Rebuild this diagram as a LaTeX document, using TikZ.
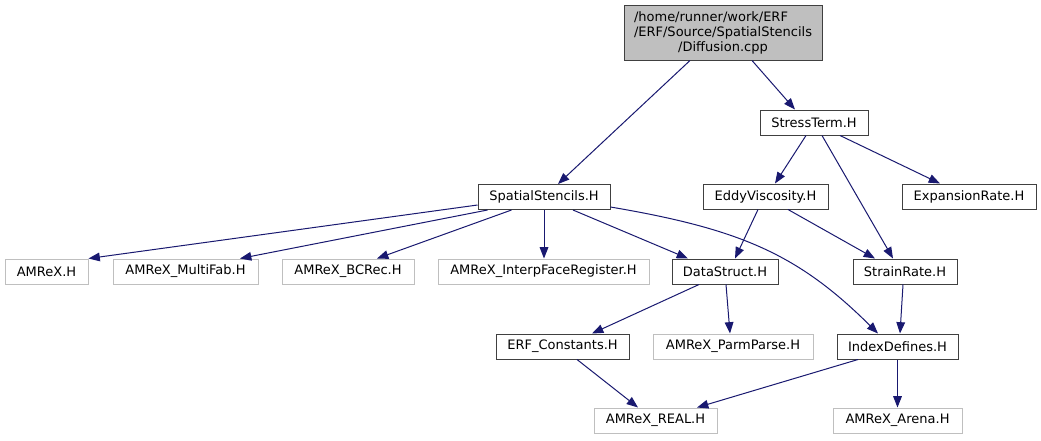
\documentclass[tikz,border=0pt]{standalone}
\usepackage{fontspec}
\setmainfont{DejaVu Sans}
\usetikzlibrary{calc,arrows.meta}
\definecolor{edgec}{HTML}{191970}
\definecolor{greyb}{HTML}{BFBFBF}
\definecolor{darkb}{HTML}{404040}
\newlength\lw
\begin{document}
\begin{tikzpicture}[x=0.75pt,y=-0.75pt,
  every node/.style={font=\fontsize{9.75pt}{11.25pt}\selectfont, inner sep=0pt, line width=0.75pt},
  box/.style 2 args={draw=darkb, fill=white, minimum width=#1*0.75pt, minimum height=#2*0.75pt},
  gbox/.style 2 args={draw=greyb, fill=white, minimum width=#1*0.75pt, minimum height=#2*0.75pt},
  edge/.style={draw=edgec, line width=0.75pt, -{Triangle[length=8.5pt,width=6.5pt]}}]
\fill[white] (0,0) rectangle (1041,440);
\useasboundingbox (0,0) rectangle (1041,440);
% nodes
\node[box={198}{55}, fill=greyb, align=center] (diff) at (723,32.5)
  {\settowidth{\lw}{/ERF/Source/SpatialStencils}\makebox[\lw][l]{/home/runner/work/ERF}\\/ERF/Source/SpatialStencils\\/Diffusion.cpp};
\node[box={108}{25}] (stress) at (814,122.5) {StressTerm.H};
\node[box={125}{25}] (eddy) at (765.5,196.5) {EddyViscosity.H};
\node[box={134}{25}] (exp) at (969,196.5) {ExpansionRate.H};
\node[box={132}{25}] (ss) at (544,197) {SpatialStencils.H};
\node[gbox={83}{25}] (amrex) at (46.5,271.5) {AMReX.H};
\node[gbox={145}{25}] (mf) at (185.5,271.5) {AMReX\_MultiFab.H};
\node[gbox={132}{25}] (bc) at (348,271.5) {AMReX\_BCRec.H};
\node[gbox={211}{25}] (interp) at (543.5,271.5) {AMReX\_InterpFaceRegister.H};
\node[box={106}{25}] (ds) at (725,271.5) {DataStruct.H};
\node[box={104}{25}] (strain) at (905,271.5) {StrainRate.H};
\node[box={133}{25}] (erfc) at (562.5,346.5) {ERF\_Constants.H};
\node[gbox={160}{25}] (parm) at (733,346.5) {AMReX\_ParmParse.H};
\node[box={121}{25}] (idx) at (897.5,346.5) {IndexDefines.H};
\node[gbox={123}{25}] (real) at (655.5,420.5) {AMReX\_REAL.H};
\node[gbox={129}{25}] (arena) at (897.5,420.5) {AMReX\_Arena.H};
% edges
\draw[edge] ($(diff.south)+(-33,0)$) -- ($(ss.north)+(14,0)$);
\draw[edge] ($(diff.south)+(29,0)$) -- ($(stress.north)+(-19,0)$);
\draw[edge] ($(stress.south)+(-8,0)$) -- ($(eddy.north)+(9.5,0)$);
\draw[edge] ($(stress.south)+(8,0)$) -- ($(strain.north)+(-12,0)$);
\draw[edge] ($(stress.south)+(26,0)$) -- ($(exp.north)+(-29,0)$);
\draw[edge] ($(eddy.south)+(-7.5,0)$) -- ($(ds.north)+(10,0)$);
\draw[edge] ($(eddy.south)+(22.5,0)$) -- ($(strain.north)+(-30,0)$);
\draw[edge] ($(ss.west)+(0,8)$) -- (amrex.north east);
\draw[edge] ($(ss.south west)+(10,0)$) -- ($(mf.north)+(54.5,0)$);
\draw[edge] ($(ss.south west)+(34,0)$) -- ($(bc.north)+(29,0)$);
\draw[edge] (ss.south) -- (ss.south |- interp.north);
\draw[edge] ($(ss.south)+(29,0)$) -- ($(ds.north)+(-37,0)$);
\draw[edge] ($(ss.east)+(0,10)$) .. controls (740,229) and (798,254) .. ($(idx.north)+(-19.5,0)$);
\draw[edge] ($(ds.south)+(-26,0)$) -- ($(erfc.north)+(29.5,0)$);
\draw[edge] ($(ds.south)+(1,0)$) -- ($(parm.north)+(-3,0)$);
\draw[edge] ($(strain.south)+(-2,0)$) -- ($(idx.north)+(2.5,0)$);
\draw[edge] ($(erfc.south)+(14.5,0)$) -- ($(real.north)+(-17.5,0)$);
\draw[edge] ($(idx.south)+(-39.5,0)$) -- ($(real.north)+(41.5,0)$);
\draw[edge] (idx.south) -- (arena.north);
\end{tikzpicture}
\end{document}
